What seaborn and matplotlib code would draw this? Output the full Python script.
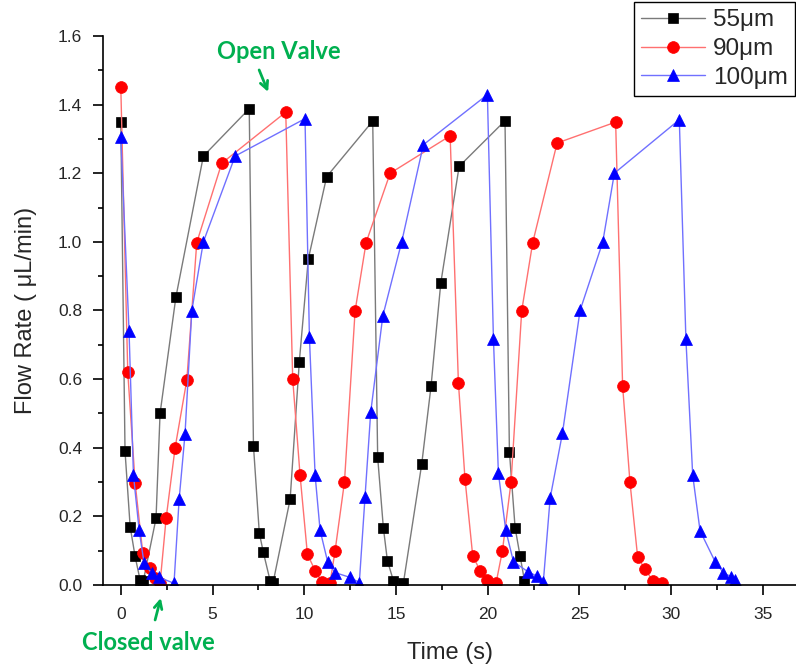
import numpy as np
import pandas as pd
import matplotlib
matplotlib.use("Agg")
import matplotlib.pyplot as plt
from matplotlib.ticker import MultipleLocator
import seaborn as sns


# flow rate vs time, three channel widths
time_55 = [0, 0.23, 0.51, 0.78, 1.05, 1.23, 1.92, 2.14, 3.0, 4.5, 7.0, 7.23, 7.55,
           7.77, 8.14, 8.3, 9.23, 9.73, 10.22, 11.22, 13.73, 14.0, 14.31, 14.53,
           14.86, 15.4, 16.4, 16.91, 17.44, 18.44, 20.94, 21.18, 21.49, 21.76, 22.0]
flow_55 = [1.35, 0.39, 0.17, 0.083, 0.015, 0.013, 0.194, 0.5, 0.838, 1.25, 1.388,
           0.406, 0.151, 0.095, 0.012, 0.007, 0.25, 0.651, 0.95, 1.19, 1.352, 0.372,
           0.167, 0.071, 0.012, 0.005, 0.352, 0.58, 0.88, 1.22, 1.353, 0.389, 0.167,
           0.085, 0.013]

time_90 = [0, 0.38, 0.78, 1.2, 1.6, 1.87, 2.14, 2.47, 2.96, 3.6, 4.14, 5.5, 8.99,
           9.37, 9.77, 10.17, 10.59, 10.95, 11.4, 11.68, 12.19, 12.77, 13.37, 14.68,
           17.95, 18.4, 18.76, 19.18, 19.58, 19.98, 20.45, 20.8, 21.27, 21.85, 22.45,
           23.78, 26.97, 27.35, 27.75, 28.17, 28.57, 28.99, 29.48]
flow_90 = [1.451, 0.62, 0.298, 0.092, 0.049, 0.02, 0.005, 0.194, 0.40, 0.598, 0.998,
           1.229, 1.378, 0.60, 0.32, 0.09, 0.042, 0.01, 0.005, 0.10, 0.30, 0.799,
           0.998, 1.2, 1.309, 0.59, 0.309, 0.085, 0.042, 0.015, 0.005, 0.1, 0.30,
           0.799, 0.998, 1.288, 1.349, 0.58, 0.30, 0.081, 0.046, 0.013, 0.005]

time_100 = [0, 0.45, 0.69, 1.0, 1.27, 1.69, 2.1, 2.9, 3.18, 3.5, 3.87, 4.5, 6.23,
            10.04, 10.28, 10.59, 10.86, 11.28, 11.68, 12.5, 13.0, 13.31, 13.62, 14.28,
            15.31, 16.49, 19.98, 20.31, 20.58, 20.98, 21.4, 22.18, 22.67, 23.03, 23.4,
            24.07, 25.03, 26.27, 26.9, 30.44, 30.8, 31.17, 31.57, 32.39, 32.84, 33.26,
            33.48]
flow_100 = [1.307, 0.739, 0.32, 0.16, 0.063, 0.034, 0.022, 0.005, 0.25, 0.44, 0.799,
            1.0, 1.25, 1.359, 0.722, 0.32, 0.16, 0.066, 0.036, 0.022, 0.007, 0.256,
            0.503, 0.784, 1.0, 1.283, 1.429, 0.716, 0.326, 0.16, 0.068, 0.039, 0.026,
            0.01, 0.253, 0.442, 0.80, 1.0, 1.2, 1.356, 0.716, 0.32, 0.158, 0.068,
            0.036, 0.024, 0.015]

series_labels = ["55\u03bcm", "90\u03bcm", "100\u03bcm"]

GREEN = "#00B050"


def build_frame():
    parts = []
    for label, t, f in zip(series_labels,
                           [time_55, time_90, time_100],
                           [flow_55, flow_90, flow_100]):
        parts.append(pd.DataFrame({"time": t, "flow": f, "width": label}))
    return pd.concat(parts, ignore_index=True)


def plot_flow(df):
    sns.set_style("ticks")
    plt.rcParams["font.family"] = ["Liberation Sans", "DejaVu Sans"]

    fig = plt.figure(figsize=(7.96, 6.70), dpi=100)
    ax = fig.add_axes([0.1294, 0.1269, 0.8706, 0.8194])

    styles = {
        "55\u03bcm": dict(marker="s", line="#7a7a7a", face="black", ms=7),
        "90\u03bcm": dict(marker="o", line="#ff7070", face="#ff0000", ms=8.5),
        "100\u03bcm": dict(marker="^", line="#7070ff", face="#0000ff", ms=9),
    }

    for label in series_labels:
        st = styles[label]
        sub = df[df["width"] == label]
        sns.lineplot(
            data=sub, x="time", y="flow",
            sort=False, estimator=None,
            color=st["line"], linewidth=1.0,
            marker=st["marker"], markersize=st["ms"],
            markerfacecolor=st["face"], markeredgecolor=st["face"],
            markeredgewidth=0.5,
            label=label, ax=ax,
        )

    handles, labels = ax.get_legend_handles_labels()
    if ax.get_legend() is not None:
        ax.get_legend().remove()

    ax.set_xlim(-0.97, 36.8)
    ax.set_ylim(0, 1.6)

    ax.xaxis.set_major_locator(MultipleLocator(5))
    ax.xaxis.set_minor_locator(MultipleLocator(2.5))
    ax.yaxis.set_major_locator(MultipleLocator(0.2))
    ax.yaxis.set_minor_locator(MultipleLocator(0.1))
    ax.yaxis.set_major_formatter(matplotlib.ticker.FormatStrFormatter("%.1f"))

    ax.tick_params(which="major", direction="out", length=7, width=1.2,
                   labelsize=12.5, color="black")
    ax.tick_params(axis="x", which="major", pad=8.5)
    ax.tick_params(axis="y", which="major", pad=8)
    ax.tick_params(which="minor", direction="out", length=3.5, width=1.2,
                   color="black")

    sns.despine(ax=ax)
    for side in ["left", "bottom"]:
        ax.spines[side].set_linewidth(1.2)
        ax.spines[side].set_color("black")

    ax.set_xlabel("Time (s)", fontsize=17, labelpad=15)
    ax.set_ylabel("Flow Rate ( \u03bcL/min)", fontsize=17, labelpad=15)

    # valve annotations
    ax.text(8.63, 1.554, "Open Valve", color=GREEN, fontsize=17,
            fontweight="bold", family=["Lato", "DejaVu Sans"],
            ha="center", va="center")
    ax.annotate("", xy=(8.03, 1.437), xytext=(7.54, 1.501),
                arrowprops=dict(arrowstyle="->", color=GREEN, lw=2,
                                mutation_scale=14, shrinkA=0, shrinkB=0))

    ax.text(1.51, -0.169, "Closed valve", color=GREEN, fontsize=17,
            fontweight="bold", family=["Lato", "DejaVu Sans"],
            ha="center", va="center", clip_on=False)
    ax.annotate("", xy=(2.18, -0.038), xytext=(1.87, -0.102),
                arrowprops=dict(arrowstyle="->", color=GREEN, lw=2,
                                mutation_scale=14, shrinkA=0, shrinkB=0),
                annotation_clip=False)

    leg = fig.legend(handles, labels, loc="upper right",
                     bbox_to_anchor=(0.999, 0.997), borderaxespad=0,
                     fontsize=17.5, frameon=True, fancybox=False,
                     framealpha=1, edgecolor="black",
                     handlelength=2.6, handletextpad=0.35,
                     labelspacing=0.28, borderpad=0.3)
    leg.get_frame().set_linewidth(1.0)

    fig.savefig("out.png", dpi=100)
    plt.close(fig)


if __name__ == "__main__":
    df = build_frame()
    plot_flow(df)
